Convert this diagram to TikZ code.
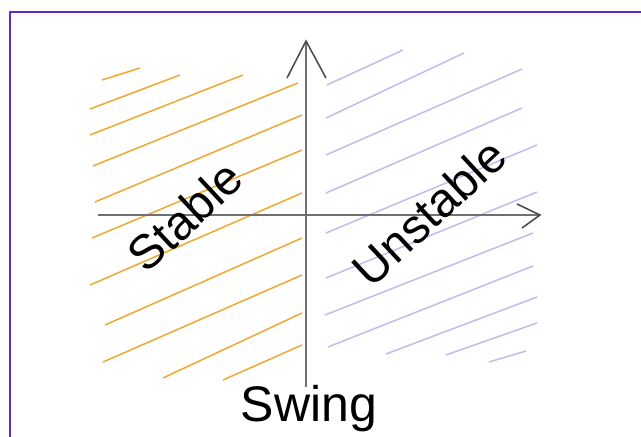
\documentclass[tikz,border=0pt]{standalone}
\usepackage{fontspec}
\setmainfont{Liberation Sans}
\definecolor{stableorange}{RGB}{240,168,48}
\definecolor{unstablelav}{RGB}{190,190,236}
\definecolor{axisgrey}{RGB}{112,112,112}
\definecolor{framepurple}{RGB}{92,44,204}
\begin{document}
\begin{tikzpicture}[x=1pt,y=-1pt,
  hatchS/.style={draw=stableorange, line width=1.5pt},
  hatchU/.style={draw=unstablelav, line width=1.5pt},
  axisline/.style={draw=axisgrey, line width=2.4pt},
  headline/.style={draw=black!72, line width=1.5pt, line join=miter},
  framel/.style={draw=framepurple, line width=2pt},
  lbl/.style={font=\fontsize{48pt}{54pt}\selectfont, inner sep=0pt, text=black}]
\useasboundingbox[fill=white] (0,0) rectangle (641,437);
% frame (top and left only)
\coordinate (fTL) at (9.5,11.5);
\coordinate (fTR) at (641,11.5);
\coordinate (fBL) at (9.5,437);
\draw[framel] (fBL) -- (fTL) -- (fTR);
% stable hatching
\draw[hatchS] (102,80) -- (140,68);
\draw[hatchS] (90,109) -- (180,75);
\draw[hatchS] (90,135) -- (243,75);
\draw[hatchS] (93,166) -- (298,83);
\draw[hatchS] (95,202) -- (302,115);
\draw[hatchS] (92,238) -- (302,150);
\draw[hatchS] (90,285) -- (302,193);
\draw[hatchS] (105,325) -- (302,238);
\draw[hatchS] (103,362) -- (302,275);
\draw[hatchS] (163,378) -- (302,313);
\draw[hatchS] (223,380) -- (302,345);
% unstable hatching
\draw[hatchU] (327,85) -- (403,50);
\draw[hatchU] (326,118) -- (464,53);
\draw[hatchU] (326,155) -- (522,69);
\draw[hatchU] (326,193) -- (522,108);
\draw[hatchU] (326,233) -- (537,145);
\draw[hatchU] (326,278) -- (537,192);
\draw[hatchU] (325,315) -- (533,233);
\draw[hatchU] (328,347) -- (533,266);
\draw[hatchU] (386,354) -- (537,297);
\draw[hatchU] (446,355) -- (537,323);
\draw[hatchU] (489,362) -- (526,351);
% axes
\coordinate (xstart) at (98,215);
\coordinate (xtip) at (540,215);
\coordinate (ybot) at (306,387);
\coordinate (ytip) at (306,41);
\draw[axisline] (xstart) -- (xtip);
\draw[axisline] (ybot) -- (ytip);
\coordinate (xarmA) at (517,204);
\coordinate (xarmB) at (522,228);
\coordinate (yarmA) at (287,78);
\coordinate (yarmB) at (326,78);
\draw[headline] (xarmA) -- (xtip) -- (xarmB);
\draw[headline] (yarmA) -- (ytip) -- (yarmB);
% labels
\node[lbl, rotate=43] (stable) at (185,216) {Stable};
\node[lbl, rotate=43] (unstable) at (429,212) {Unstable};
\node[lbl, font=\fontsize{50pt}{56pt}\selectfont, anchor=base] (swing) at (309,421) {Swing};
\end{tikzpicture}
\end{document}
